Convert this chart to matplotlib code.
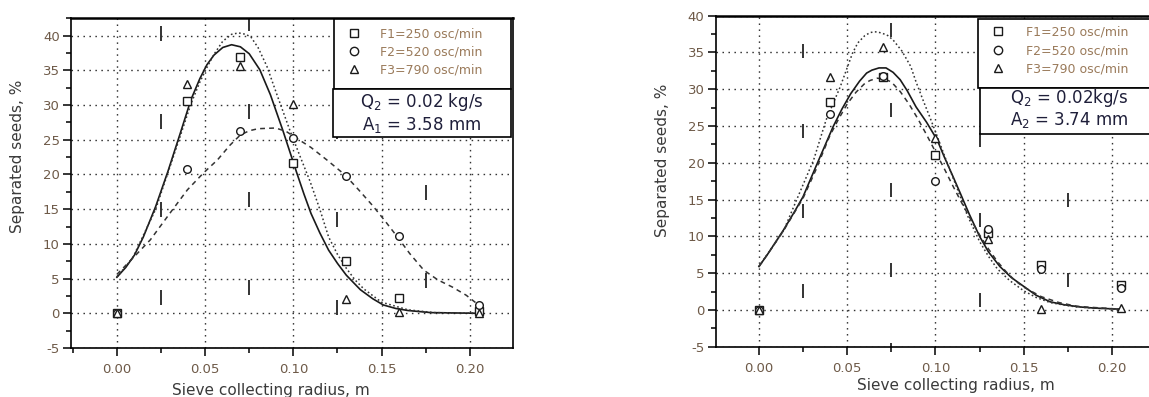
import numpy as np
import matplotlib
matplotlib.use("Agg")
import matplotlib.pyplot as plt
from matplotlib.lines import Line2D
from matplotlib.patches import Rectangle
from matplotlib.ticker import MultipleLocator, FormatStrFormatter

plt.rcParams['font.family'] = ['DejaVu Sans']
plt.rcParams['mathtext.default'] = 'regular'
plt.rcParams['axes.unicode_minus'] = False
plt.rcParams['lines.scale_dashes'] = False

# measured points (sieve radius, m)
x_pts = [0.0, 0.04, 0.07, 0.10, 0.13, 0.16, 0.205]

# left panel: Q2 = 0.02 kg/s, A1 = 3.58 mm
a_f1 = [0.0, 30.6, 36.9, 21.7, 7.6, 2.2, 0.3]
a_f2 = [0.0, 20.8, 26.3, 25.3, 19.8, 11.2, 1.2]
a_f3 = [0.0, 33.0, 35.6, 30.1, 2.0, 0.2, 0.0]

a_c1_x = [0.0, 0.005, 0.010, 0.015, 0.022, 0.029, 0.036, 0.042, 0.047, 0.051, 0.055,
          0.060, 0.065, 0.070, 0.075, 0.081, 0.087, 0.094, 0.102, 0.106, 0.110, 0.115,
          0.120, 0.125, 0.130, 0.138, 0.145, 0.151, 0.158, 0.165, 0.178, 0.205]
a_c1_y = [5.2, 6.6, 8.4, 11.0, 15.4, 20.5, 26.0, 30.8, 33.8, 35.8, 37.2,
          38.3, 38.7, 38.4, 37.4, 35.1, 31.5, 26.4, 20.2, 17.2, 14.4, 11.6,
          9.1, 7.2, 5.5, 3.4, 2.1, 1.2, 0.7, 0.4, 0.1, 0.0]
a_c2_x = [0.0, 0.010, 0.019, 0.030, 0.040, 0.049, 0.057, 0.064, 0.070, 0.075, 0.080,
          0.090, 0.096, 0.102, 0.110, 0.119, 0.129, 0.137, 0.145, 0.152, 0.159, 0.166,
          0.174, 0.182, 0.190, 0.198, 0.205]
a_c2_y = [5.6, 8.2, 10.6, 14.4, 17.8, 20.2, 22.1, 24.2, 25.7, 26.3, 26.6,
          26.7, 26.2, 25.2, 23.9, 22.1, 20.0, 17.8, 15.5, 13.3, 11.0, 8.6,
          6.2, 4.8, 3.8, 2.6, 1.2]
a_c3_x = [0.0, 0.009, 0.022, 0.036, 0.042, 0.047, 0.051, 0.055, 0.060, 0.065, 0.069,
          0.073, 0.076, 0.080, 0.085, 0.091, 0.098, 0.104, 0.1095, 0.115, 0.120, 0.125,
          0.130, 0.135, 0.140, 0.150, 0.165, 0.180, 0.205]
a_c3_y = [5.2, 8.0, 15.0, 25.6, 30.2, 33.3, 35.4, 37.3, 39.2, 40.2, 40.4,
          40.2, 39.8, 38.3, 35.6, 31.3, 26.4, 22.5, 19.0, 15.0, 11.0, 8.5,
          6.5, 4.8, 3.5, 1.6, 0.5, 0.1, 0.0]

# right panel: Q2 = 0.02 kg/s, A2 = 3.74 mm
b_f1 = [0.0, 28.2, 31.6, 21.1, 10.4, 6.1, 3.4]
b_f2 = [0.0, 26.7, 31.8, 17.5, 11.0, 5.6, 3.0]
b_f3 = [0.0, 31.6, 35.7, 23.4, 9.7, 0.1, 0.2]

b_c1_x = [0.0, 0.005, 0.014, 0.020, 0.025, 0.033, 0.042, 0.047, 0.052, 0.057, 0.061,
          0.064, 0.068, 0.072, 0.076, 0.080, 0.084, 0.089, 0.095, 0.101, 0.105, 0.110,
          0.114, 0.119, 0.125, 0.130, 0.1365, 0.143, 0.150, 0.157, 0.165, 0.173, 0.182,
          0.190, 0.205]
b_c1_y = [5.9, 7.6, 10.9, 13.3, 15.4, 19.9, 24.9, 27.3, 29.4, 31.1, 32.2,
          32.6, 32.9, 32.9, 32.3, 31.3, 29.8, 27.6, 25.5, 23.1, 20.8, 18.1,
          15.9, 13.1, 10.0, 7.9, 5.9, 4.4, 3.2, 2.0, 1.1, 0.7, 0.4,
          0.25, 0.1]
b_c2_x = [0.0, 0.005, 0.014, 0.020, 0.025, 0.032, 0.040, 0.045, 0.050, 0.055, 0.060,
          0.063, 0.067, 0.071, 0.075, 0.080, 0.085, 0.090, 0.095, 0.100, 0.105, 0.110,
          0.115, 0.120, 0.125, 0.130, 0.135, 0.140, 0.145, 0.150, 0.160, 0.170, 0.180,
          0.185, 0.205]
b_c2_y = [5.9, 7.6, 10.8, 13.2, 15.2, 18.9, 23.6, 25.9, 28.0, 29.6, 30.8,
          31.2, 31.5, 31.4, 31.0, 29.7, 28.0, 26.0, 23.8, 21.5, 19.2, 16.8,
          14.5, 12.3, 10.2, 8.3, 6.6, 5.2, 4.0, 3.1, 1.8, 1.0, 0.5,
          0.4, 0.1]
b_c3_x = [0.0, 0.014, 0.023, 0.031, 0.038, 0.046, 0.053, 0.056, 0.060, 0.063, 0.065,
          0.067, 0.070, 0.073, 0.076, 0.081, 0.086, 0.089, 0.093, 0.097, 0.101, 0.106,
          0.112, 0.118, 0.125, 0.130, 0.135, 0.142, 0.150, 0.157, 0.165, 0.172, 0.180,
          0.190, 0.205]
b_c3_y = [5.9, 10.8, 15.9, 20.4, 25.8, 30.3, 34.9, 36.3, 37.3, 37.7, 37.8,
          37.8, 37.6, 37.3, 36.7, 35.2, 33.1, 31.0, 28.5, 26.1, 23.6, 20.4,
          16.7, 12.9, 9.3, 7.3, 5.6, 4.0, 2.6, 1.7, 1.0, 0.7, 0.4,
          0.25, 0.1]

labels = ['F1=250 osc/min', 'F2=520 osc/min', 'F3=790 osc/min']
box_a = ['Q$_2$ = 0.02 kg/s', 'A$_1$ = 3.58 mm']
box_b = ['Q$_2$ = 0.02kg/s', 'A$_2$ = 3.74 mm']

INK = '#1a1a1a'
TICK_C = '#6e5a48'
LEG_C = '#9a7a5a'
PX = 0.72  # points per pixel at dpi 100


def panel(ax, ylim, xlim, f1, f2, f3, c1, c2, c3, dash_off, period, on,
          leg_anchor, leg_pad, leg_sp, legrect, textrect, txt, txt_xy, ylab_xy, xlab_xy):
    ax.set_xlim(*xlim)
    ax.set_ylim(*ylim)
    ax.xaxis.set_major_locator(MultipleLocator(0.05))
    ax.xaxis.set_minor_locator(MultipleLocator(0.025))
    ax.yaxis.set_major_locator(MultipleLocator(5))
    ax.yaxis.set_minor_locator(MultipleLocator(2.5))
    ax.xaxis.set_major_formatter(FormatStrFormatter('%.2f'))
    ax.yaxis.set_major_formatter(FormatStrFormatter('%d'))
    ax.tick_params(which='major', direction='out', length=6, width=1.1,
                   labelsize=9.5, labelcolor=TICK_C, pad=2)
    ax.tick_params(which='minor', direction='out', length=3.5, width=1.1)
    ax.tick_params(axis='x', which='major', pad=5)
    for s in ax.spines.values():
        s.set_linewidth(1.2)
    ax.spines['top'].set_linewidth(1.8)

    ax.grid(which='major', color='#333333', linewidth=1.0, linestyle=(0, (1.1, 3.2)))
    # short dashes on the minor x positions
    for xv, d in dash_off.items():
        ax.axvline(xv, color='#333333', linewidth=1.4,
                   linestyle=((period - d) * PX, (on * PX, (period - on) * PX)), zorder=1)

    ax.plot(c1[0], c1[1], color=INK, linewidth=1.2, zorder=3)
    ax.plot(c2[0], c2[1], color='#333333', linewidth=1.1,
            linestyle=(0, (3.5, 3)), zorder=3)
    ax.plot(c3[0], c3[1], color='#333333', linewidth=1.1,
            linestyle=(0, (1.2, 1.8)), zorder=3)

    mk = dict(linestyle='none', markerfacecolor='white', markeredgecolor=INK,
              markeredgewidth=1.0, markersize=5.5, zorder=4, clip_on=False)
    ax.plot(x_pts, f1, marker='s', **mk)
    ax.plot(x_pts, f2, marker='o', **mk)
    ax.plot(x_pts, f3, marker='^', **mk)

    for (x0, y0, x1, y1) in (legrect, textrect):
        ax.add_patch(Rectangle((x0, y0), x1 - x0, y1 - y0, transform=ax.transAxes,
                               facecolor='white', edgecolor='black', linewidth=1.2,
                               zorder=6, clip_on=False))

    handles = [Line2D([], [], marker=m, linestyle='none', markerfacecolor='white',
                      markeredgecolor=INK, markeredgewidth=1.0, markersize=6)
               for m in ('s', 'o', '^')]
    leg = ax.legend(handles, labels, loc='upper left', bbox_to_anchor=leg_anchor,
                    bbox_transform=ax.transAxes, frameon=False, fontsize=9,
                    handlelength=1.0, handletextpad=leg_pad, labelspacing=leg_sp,
                    borderpad=0, borderaxespad=0, labelcolor=LEG_C)
    leg.set_zorder(7)

    ax.text(txt_xy[0], txt_xy[1], txt[0], transform=ax.transAxes, ha='center',
            va='center', fontsize=12, color='#1f1f3a', zorder=8)
    ax.text(txt_xy[0], txt_xy[2], txt[1], transform=ax.transAxes, ha='center',
            va='center', fontsize=12, color='#1f1f3a', zorder=8)

    ax.set_ylabel('Separated seeds, %', fontsize=11, color='#3a3a3a')
    ax.set_xlabel('Sieve collecting radius, m', fontsize=11, color='#3a3a3a')
    ax.yaxis.set_label_coords(*ylab_xy)
    ax.xaxis.set_label_coords(*xlab_xy)


fig = plt.figure(figsize=(11.49, 3.97), dpi=100)

ax1 = fig.add_axes([71 / 1149, 49 / 397, 442 / 1149, 330 / 397])
panel(ax1, (-5, 42.55), (-0.026, 0.2245), a_f1, a_f2, a_f3,
      (a_c1_x, a_c1_y), (a_c2_x, a_c2_y), (a_c3_x, a_c3_y),
      {0.025: 43, 0.075: 53, 0.125: 33, 0.175: 60}, 88, 15,
      (0.626, 0.9706), 1.58, 0.39,
      (0.595, 0.785, 0.9955, 0.997), (0.593, 0.639, 0.9955, 0.785),
      box_a, (0.794, 0.745, 0.676), (-0.104, 0.58), (0.452, -0.106))

ax2 = fig.add_axes([715.7 / 1149, 50.3 / 397, 440.4 / 1149, 331 / 397])
panel(ax2, (-5, 40), (-0.0245, 0.225), b_f1, b_f2, b_f3,
      (b_c1_x, b_c1_y), (b_c2_x, b_c2_y), (b_c3_x, b_c3_y),
      {0.025: 49, 0.075: 70, 0.125: 40, 0.175: 60}, 80, 14,
      (0.627, 0.970), 1.74, 0.43,
      (0.5956, 0.7813, 1.1, 0.99), (0.60, 0.6426, 1.1, 0.7813),
      box_b, (0.802, 0.751, 0.685), (-0.104, 0.564), (0.545, -0.095))

fig.savefig('out.png', dpi=100)
